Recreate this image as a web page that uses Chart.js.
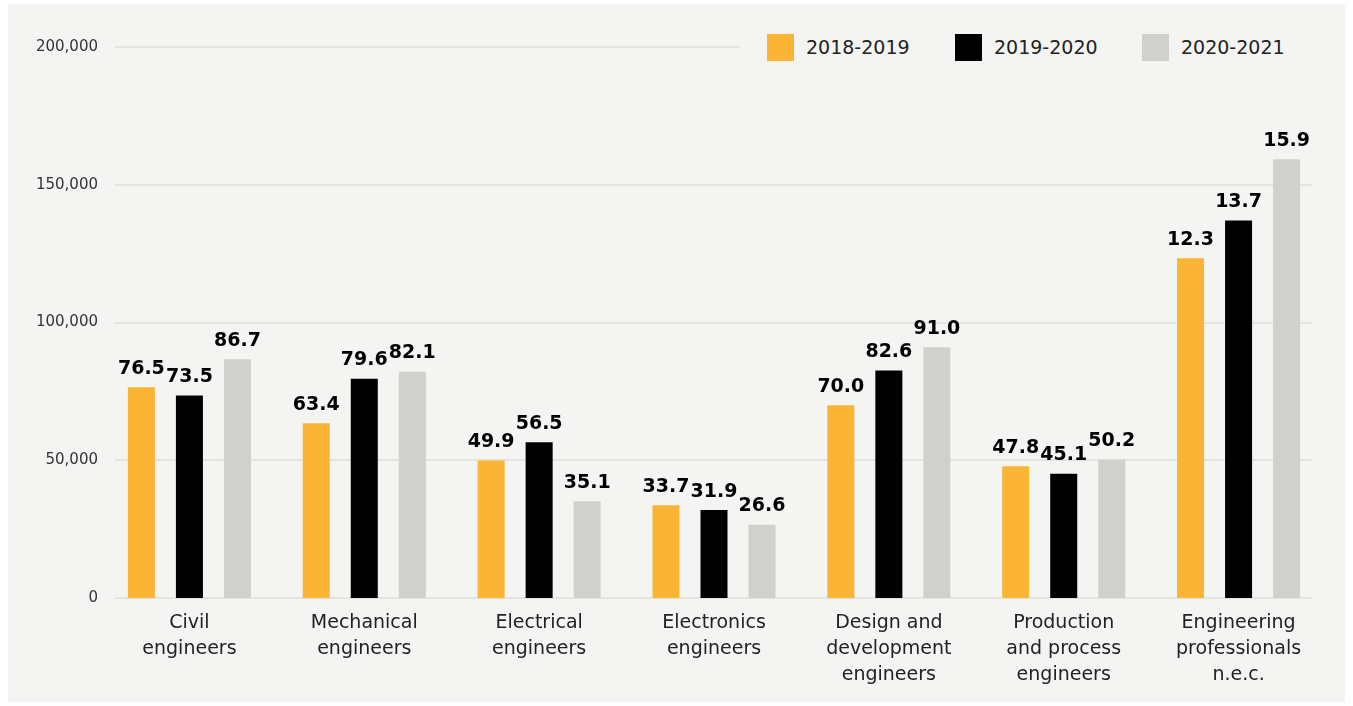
<!DOCTYPE html>
<html>
<head>
<meta charset="utf-8">
<script src="https://cdn.jsdelivr.net/npm/chart.js@4"></script>
<style>
  html, body { margin: 0; padding: 0; background: #fff; }
  #frame { position: absolute; left: 8px; top: 4px; width: 1337px; height: 698px; background: #f4f4f2; }
  #wrap { position: absolute; left: 0; top: 0; width: 1353px; height: 706px; }
  #legend { position: absolute; left: 740px; top: 29px; width: 575px; height: 36px; background: #f4f4f2;
    display: flex; align-items: center; font-family: "DejaVu Sans", sans-serif; font-size: 19px; color: #222; }
  .item { display: flex; align-items: center; position: absolute; }
  .item span.box { width: 27px; height: 27px; margin-right: 12px; display: inline-block; }
</style>
</head>
<body>
<div id="frame"></div>
<div id="wrap"><canvas id="chart" width="1353" height="706"></canvas></div>
<div id="legend"></div>
<script>
const categories = [
  ["Civil", "engineers"],
  ["Mechanical", "engineers"],
  ["Electrical", "engineers"],
  ["Electronics", "engineers"],
  ["Design and", "development", "engineers"],
  ["Production", "and process", "engineers"],
  ["Engineering", "professionals", "n.e.c."]
];
const seriesNames = ["2018-2019", "2019-2020", "2020-2021"];
const seriesColors = ["#fbb534", "#000000", "#d0d0ce"];
const values2018 = [76500, 63400, 49900, 33700, 70000, 47800, 123300];
const values2019 = [73500, 79600, 56500, 31900, 82600, 45100, 137000];
const values2020 = [86700, 82100, 35100, 26600, 91000, 50200, 159300];
const labels2018 = ["76.5", "63.4", "49.9", "33.7", "70.0", "47.8", "12.3"];
const labels2019 = ["73.5", "79.6", "56.5", "31.9", "82.6", "45.1", "13.7"];
const labels2020 = ["86.7", "82.1", "35.1", "26.6", "91.0", "50.2", "15.9"];
const yTicks = [0, 50000, 100000, 150000, 200000];

const allValues = [values2018, values2019, values2020];
const allLabels = [labels2018, labels2019, labels2020];

// legend (html, sits over the top gridline like the original)
const legend = document.getElementById("legend");
const legendX = [27, 215, 402];
seriesNames.forEach((name, i) => {
  const item = document.createElement("div");
  item.className = "item";
  item.style.left = legendX[i] + "px";
  item.innerHTML = `<span class="box" style="background:${seriesColors[i]}"></span>${name}`;
  legend.appendChild(item);
});

// gridlines only between x=115 and x=1312, like the original
const gridPlugin = {
  id: "grid",
  beforeDatasetsDraw(chart) {
    const ctx = chart.ctx;
    const y = chart.scales.y;
    ctx.save();
    ctx.strokeStyle = "#e3e3e1";
    ctx.lineWidth = 2;
    yTicks.forEach(v => {
      const py = Math.round(y.getPixelForValue(v));
      ctx.beginPath();
      ctx.moveTo(115, py);
      ctx.lineTo(1312, py);
      ctx.stroke();
    });
    ctx.restore();
  }
};

const valueLabels = {
  id: "valueLabels",
  afterDatasetsDraw(chart) {
    const ctx = chart.ctx;
    ctx.save();
    ctx.font = "bold 19px 'DejaVu Sans', sans-serif";
    ctx.fillStyle = "#000";
    ctx.textAlign = "center";
    ctx.textBaseline = "bottom";
    chart.data.datasets.forEach((ds, di) => {
      chart.getDatasetMeta(di).data.forEach((bar, i) => {
        ctx.fillText(allLabels[di][i], bar.x, bar.y - 9);
      });
    });
    ctx.restore();
  }
};

new Chart(document.getElementById("chart"), {
  type: "bar",
  data: {
    labels: categories,
    datasets: seriesNames.map((name, i) => ({
      label: name,
      data: allValues[i],
      backgroundColor: seriesColors[i],
      barPercentage: 0.5625,
      categoryPercentage: 0.824
    }))
  },
  options: {
    responsive: false,
    animation: false,
    layout: { padding: { top: 47, right: 27, bottom: 0, left: 0 } },
    plugins: {
      legend: { display: false },
      tooltip: { enabled: false }
    },
    scales: {
      x: {
        grid: { display: false, drawTicks: false },
        border: { display: false },
        ticks: {
          color: "#222",
          font: { family: "'DejaVu Sans', sans-serif", size: 19, lineHeight: 1.37 },
          padding: 12,
          maxRotation: 0,
          autoSkip: false
        },
        afterFit(s) { s.height = 108; }
      },
      y: {
        min: 0,
        max: 200000,
        grid: { display: false, drawTicks: false },
        border: { display: false },
        afterBuildTicks(s) { s.ticks = yTicks.map(v => ({ value: v })); },
        ticks: {
          color: "#333",
          font: { family: "'DejaVu Sans', sans-serif", size: 15 },
          padding: 4,
          callback: v => v.toLocaleString("en-US")
        },
        afterFit(s) { s.width = 102; }
      }
    }
  },
  plugins: [gridPlugin, valueLabels]
});
</script>
</body>
</html>
